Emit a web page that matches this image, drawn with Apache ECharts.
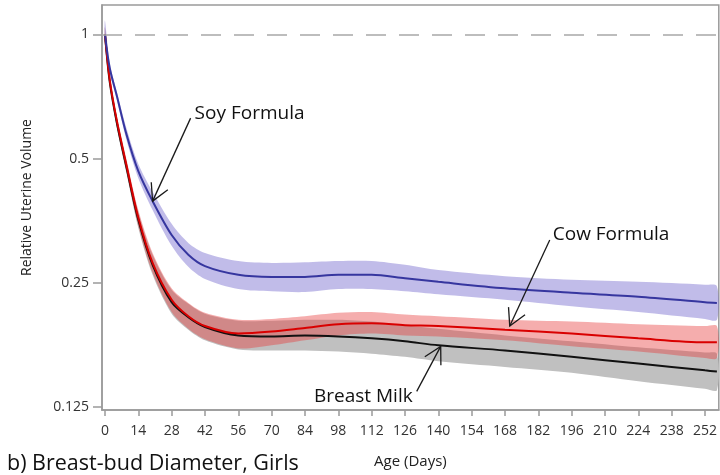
<!DOCTYPE html>
<html>
<head>
<meta charset="utf-8">
<script src="https://cdn.jsdelivr.net/npm/echarts@6/dist/echarts.min.js"></script>
<style>
  html, body { margin: 0; padding: 0; background: #fff; }
  #chart { width: 720px; height: 475px; }
</style>
</head>
<body>
<div id="chart"></div>
<script>
// Age in days at which the fitted curves are sampled
const ageDays = [0, 2, 5, 9, 14, 20, 28, 35, 42, 56, 70, 84, 98, 112, 126, 140, 168, 196, 224, 252, 257];

// Soy formula: fitted relative uterine volume and 95% band
const soyMean  = [1.000, 0.829, 0.709, 0.573, 0.466, 0.394, 0.326, 0.292, 0.274, 0.261, 0.258, 0.258, 0.261, 0.261, 0.256, 0.251, 0.242, 0.236, 0.231, 0.224, 0.223];
const soyUpper = [1.080, 0.853, 0.725, 0.593, 0.485, 0.415, 0.347, 0.312, 0.295, 0.282, 0.279, 0.280, 0.282, 0.282, 0.276, 0.268, 0.259, 0.254, 0.251, 0.247, 0.245];
const soyLower = [0.950, 0.806, 0.693, 0.555, 0.448, 0.375, 0.307, 0.273, 0.255, 0.241, 0.238, 0.237, 0.241, 0.241, 0.238, 0.234, 0.227, 0.219, 0.212, 0.204, 0.203];

// Cow formula
const cowMean  = [1.000, 0.776, 0.617, 0.482, 0.359, 0.279, 0.227, 0.207, 0.196, 0.188, 0.190, 0.194, 0.198, 0.199, 0.197, 0.196, 0.192, 0.188, 0.183, 0.179, 0.179];
const cowUpper = [1.040, 0.789, 0.634, 0.499, 0.375, 0.295, 0.242, 0.223, 0.211, 0.203, 0.204, 0.207, 0.211, 0.212, 0.209, 0.207, 0.203, 0.201, 0.198, 0.196, 0.196];
const cowLower = [0.960, 0.763, 0.600, 0.466, 0.343, 0.264, 0.212, 0.193, 0.182, 0.173, 0.176, 0.181, 0.186, 0.188, 0.186, 0.185, 0.181, 0.175, 0.170, 0.164, 0.164];

// Breast milk
const milkMean  = [1.000, 0.767, 0.610, 0.477, 0.355, 0.276, 0.224, 0.206, 0.195, 0.186, 0.185, 0.186, 0.185, 0.183, 0.180, 0.176, 0.171, 0.165, 0.159, 0.153, 0.152];
const milkUpper = [1.040, 0.780, 0.627, 0.493, 0.371, 0.292, 0.240, 0.222, 0.210, 0.202, 0.202, 0.203, 0.203, 0.201, 0.197, 0.193, 0.186, 0.180, 0.174, 0.169, 0.168];
const milkLower = [0.960, 0.754, 0.593, 0.461, 0.339, 0.261, 0.210, 0.192, 0.181, 0.172, 0.171, 0.171, 0.170, 0.168, 0.165, 0.161, 0.156, 0.151, 0.144, 0.138, 0.137];

// Axis ticks
const xTickValues = [0, 14, 28, 42, 56, 70, 84, 98, 112, 126, 140, 154, 168, 182, 196, 210, 224, 238, 252];
const yTickValues = [0.125, 0.25, 0.5, 1];
const yTickLabels = ['0.125', '0.25', '0.5', '1'];
const referenceLevel = 1;

// Group labels with the point on each curve that their arrow points at
const groupNames = ['Soy Formula', 'Cow Formula', 'Breast Milk'];
const arrowTips = [[20, 0.394], [170, 0.196], [141, 0.175]];

const lg = Math.log2;
const toPts = arr => ageDays.map((d, i) => [d, lg(arr[i])]);
const SMOOTH = 0.3;

// Confidence band drawn as one smoothed polygon: upper edge forward, lower edge back
function bandSeries(name, lower, upper, fill) {
  return {
    name: name + ' band', type: 'custom', clip: true, silent: true,
    data: toPts(upper),
    encode: { x: 0, y: 1 },
    renderItem: (params, api) => {
      if (params.dataIndex !== 0) return null;
      const top = ageDays.map((d, i) => api.coord([d, lg(upper[i])]));
      const bottom = ageDays.map((d, i) => api.coord([d, lg(lower[i])])).reverse();
      return {
        type: 'polygon',
        shape: { points: top.concat(bottom), smooth: SMOOTH },
        style: { fill: fill, stroke: null }
      };
    }
  };
}

function curveSeries(name, mean, color) {
  return {
    name: name, type: 'line', data: toPts(mean), symbol: 'none',
    smooth: SMOOTH,
    lineStyle: { color: color, width: 2 }
  };
}

const chart = echarts.init(document.getElementById('chart'), null, { renderer: 'canvas' });

const axisGray = '#9a9a9a';
const tickFont = { fontFamily: 'Open Sans', fontSize: 14, color: '#333' };

const option = {
  animation: false,
  backgroundColor: '#fff',
  title: {
    text: 'b) Breast-bud Diameter, Girls',
    left: 2, top: 448,
    textStyle: { fontFamily: 'Open Sans', fontSize: 21.5, fontWeight: 'normal', color: '#111' }
  },
  grid: {
    left: 102, right: -2, top: 5, bottom: 65,
    show: true, borderColor: axisGray, borderWidth: 1.5, backgroundColor: 'transparent'
  },
  xAxis: {
    type: 'value', min: -1.25, max: 257.8,
    name: 'Age (Days)', nameLocation: 'middle', nameGap: 44,
    nameTextStyle: { fontFamily: 'Open Sans', fontSize: 15, color: '#222' },
    axisLine: { show: true, onZero: false, lineStyle: { color: axisGray, width: 1.5 } },
    axisTick: { show: true, length: 6, customValues: xTickValues, lineStyle: { color: axisGray, width: 1.5 } },
    axisLabel: Object.assign({ customValues: xTickValues, margin: 14 }, tickFont),
    splitLine: { show: false }
  },
  yAxis: {
    type: 'value', min: -3.028, max: 0.238,
    name: 'Relative Uterine Volume', nameLocation: 'middle', nameGap: 68, nameRotate: 90,
    nameTextStyle: { fontFamily: 'Open Sans', fontSize: 14, color: '#222', padding: [0, 0, 0, 20] },
    axisLine: { show: true, onZero: false, lineStyle: { color: axisGray, width: 1.5 } },
    axisTick: { show: true, length: 9, customValues: yTickValues.map(lg), lineStyle: { color: axisGray, width: 1.5 } },
    axisLabel: Object.assign({
      customValues: yTickValues.map(lg), margin: 13,
      formatter: v => {
        const i = yTickValues.findIndex(t => Math.abs(lg(t) - v) < 1e-6);
        return i >= 0 ? yTickLabels[i] : '';
      }
    }, tickFont),
    splitLine: { show: false }
  },
  series: [
    bandSeries('Breast Milk', milkLower, milkUpper, 'rgb(192,192,192)'),
    bandSeries('Cow Formula', cowLower, cowUpper, 'rgba(232,60,60,0.42)'),
    bandSeries('Soy Formula', soyLower, soyUpper, 'rgba(125,115,210,0.48)'),
    curveSeries('Breast Milk', milkMean, '#111111'),
    Object.assign(curveSeries('Cow Formula', cowMean, '#d90000'), {
      markLine: {
        silent: true, symbol: 'none', label: { show: false },
        lineStyle: { color: '#a8a8a8', type: [20, 13], width: 1.5 },
        data: [{ yAxis: lg(referenceLevel) }]
      }
    }),
    curveSeries('Soy Formula', soyMean, '#36369f')
  ]
};

chart.setOption(option);

// Arrow annotations: tip sits on a curve (data space), tail and text are offset in pixels
const annotationLayout = [
  { tail: [38, -83], text: [42, -88], align: 'left' },
  { tail: [40, -86], text: [43, -91], align: 'left' },
  { tail: [-24, 45], text: [-28, 50], align: 'right' }
];

function arrowGraphics() {
  const els = [];
  groupNames.forEach((label, i) => {
    const tip = chart.convertToPixel({ gridIndex: 0 }, [arrowTips[i][0], lg(arrowTips[i][1])]);
    const lay = annotationLayout[i];
    const tail = [tip[0] + lay.tail[0], tip[1] + lay.tail[1]];
    const ang = Math.atan2(tail[1] - tip[1], tail[0] - tip[0]);
    const armLen = 19, spread = 0.5;
    const a1 = [tip[0] + armLen * Math.cos(ang - spread), tip[1] + armLen * Math.sin(ang - spread)];
    const a2 = [tip[0] + armLen * Math.cos(ang + spread), tip[1] + armLen * Math.sin(ang + spread)];
    const stroke = { stroke: '#1a1a1a', lineWidth: 1.3, fill: null };
    els.push({ type: 'polyline', shape: { points: [tail, tip] }, style: stroke, z: 50 });
    els.push({ type: 'polyline', shape: { points: [a1, tip, a2] }, style: stroke, z: 50 });
    els.push({
      type: 'text', x: tip[0] + lay.text[0], y: tip[1] + lay.text[1], z: 50,
      style: {
        text: label, fill: '#111', font: '19px "Open Sans"',
        textAlign: lay.align, textVerticalAlign: 'middle'
      }
    });
  });
  return els;
}

chart.setOption({ graphic: arrowGraphics() });
</script>
</body>
</html>
